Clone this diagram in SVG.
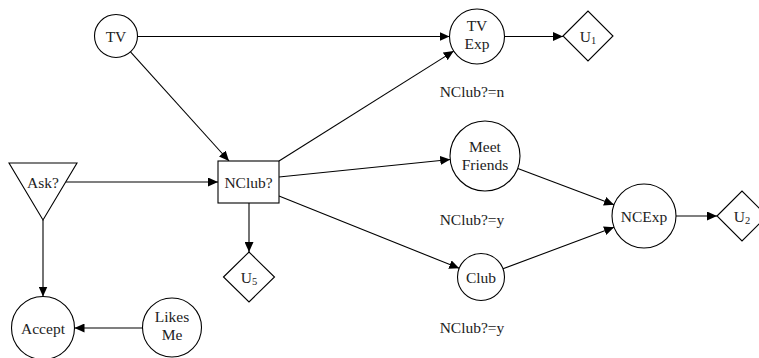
<svg xmlns="http://www.w3.org/2000/svg" width="759" height="358" viewBox="0 0 759 358">
  <defs>
    <marker id="arrow" markerUnits="userSpaceOnUse" markerWidth="11" markerHeight="9" refX="10" refY="4.5" orient="auto">
      <path d="M0,0 L10,4.5 L0,9 z" fill="#000"/>
    </marker>
  </defs>
  <style>
    .node { fill: #fff; stroke: #000; stroke-width: 1.1; }
    .lbl { font-family: "Liberation Serif", "DejaVu Serif", serif; font-size: 15.5px; fill: #222; text-anchor: middle; }
    .sub { font-size: 10.5px; }
    .edge { stroke: #000; stroke-width: 1.1; fill: none; marker-end: url(#arrow); }
  </style>
  <rect width="759" height="358" fill="#fff"/>

  <g id="connectors">
    <line class="edge" x1="137.5" y1="36.5" x2="449.5" y2="36.5"/>
    <line class="edge" x1="130.5" y1="51.9" x2="229" y2="161"/>
    <line class="edge" x1="504.5" y1="36.5" x2="563" y2="36.5"/>
    <line class="edge" x1="279" y1="161" x2="453.7" y2="51.1"/>
    <line class="edge" x1="279" y1="177" x2="450.2" y2="159.5"/>
    <line class="edge" x1="279" y1="196" x2="459.2" y2="268.3"/>
    <line class="edge" x1="517.8" y1="168.4" x2="614" y2="204.7"/>
    <line class="edge" x1="503" y1="268.8" x2="614" y2="227.2"/>
    <line class="edge" x1="676" y1="216" x2="717" y2="216"/>
    <line class="edge" x1="65.7" y1="182" x2="218" y2="182"/>
    <line class="edge" x1="43" y1="220" x2="43" y2="296.5"/>
    <line class="edge" x1="142.5" y1="328" x2="74.5" y2="328"/>
    <line class="edge" x1="249" y1="203" x2="249" y2="252"/>
  </g>

  <g id="tv">
    <circle class="node" cx="116" cy="36" r="21.5"/>
    <text class="lbl" x="116" y="41.5">TV</text>
  </g>
  <g id="tv-exp">
    <circle class="node" cx="477" cy="36.5" r="27.5"/>
    <text class="lbl" x="477" y="31">TV</text>
    <text class="lbl" x="477" y="49">Exp</text>
  </g>
  <g id="u1">
    <polygon class="node" points="563,36 588,11 613,36 588,61"/>
    <text class="lbl" x="588" y="41.5">U<tspan class="sub" dy="2">1</tspan></text>
  </g>
  <g id="label-n">
    <text class="lbl" x="472" y="97">NClub?=n</text>
  </g>
  <g id="meet-friends">
    <circle class="node" cx="485" cy="156" r="35"/>
    <text class="lbl" x="485" y="151.5">Meet</text>
    <text class="lbl" x="485" y="169.5">Friends</text>
  </g>
  <g id="label-y1">
    <text class="lbl" x="472" y="225">NClub?=y</text>
  </g>
  <g id="club">
    <circle class="node" cx="481" cy="277" r="23.5"/>
    <text class="lbl" x="481" y="282.5">Club</text>
  </g>
  <g id="label-y2">
    <text class="lbl" x="472" y="333">NClub?=y</text>
  </g>
  <g id="ncexp">
    <circle class="node" cx="644" cy="216" r="32"/>
    <text class="lbl" x="644" y="221.5">NCExp</text>
  </g>
  <g id="u2">
    <polygon class="node" points="717,216 742,191 767,216 742,241"/>
    <text class="lbl" x="742" y="221.5">U<tspan class="sub" dy="2">2</tspan></text>
  </g>
  <g id="nclub">
    <rect class="node" x="218" y="161" width="61" height="42"/>
    <text class="lbl" x="248.5" y="187.5">NClub?</text>
  </g>
  <g id="u5">
    <polygon class="node" points="223.5,277 249,252 274.5,277 249,302"/>
    <text class="lbl" x="249" y="282.5">U<tspan class="sub" dy="2">5</tspan></text>
  </g>
  <g id="ask">
    <polygon class="node" points="9,163 77,163 43,220"/>
    <text class="lbl" x="43" y="187.5">Ask?</text>
  </g>
  <g id="accept">
    <circle class="node" cx="43" cy="328" r="31.5"/>
    <text class="lbl" x="43" y="333.5">Accept</text>
  </g>
  <g id="likes-me">
    <circle class="node" cx="172" cy="327.5" r="29.5"/>
    <text class="lbl" x="172" y="322">Likes</text>
    <text class="lbl" x="172" y="340">Me</text>
  </g>
</svg>
